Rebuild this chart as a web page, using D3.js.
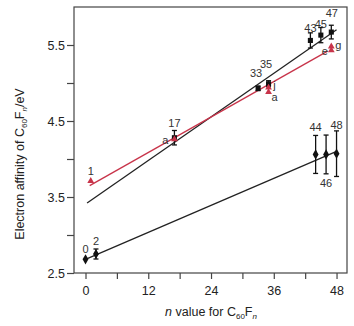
<!DOCTYPE html>
<html><head><meta charset="utf-8">
<script src="https://cdn.jsdelivr.net/npm/d3@7"></script>
<style>body{margin:0;background:#fff}svg{display:block}text{font-family:"Liberation Sans",Arial,sans-serif}</style>
</head><body>
<svg id="c" width="354" height="326"></svg>
<script>
// Upper black series (squares)
const upperN   = [17, 33, 35, 43, 45, 47];
const upperV   = [4.28, 4.93, 4.99, 5.56, 5.63, 5.67];
const upperErr = [0.095, 0.03, 0.04, 0.1, 0.1, 0.09];
const upperLbl = ["17", "33", "35", "43", "45", "47"];
// Red series (triangles)
const redN   = [1, 17, 35, 35, 47, 47];
const redV   = [3.71, 4.26, 4.94, 4.88, 5.48, 5.43];
const redLbl = ["1", "a", "j", "a", "g", "e"];
// Lower black series (diamonds)
const lowerN   = [0, 2, 44, 46, 48];
const lowerV   = [2.68, 2.75, 4.06, 4.06, 4.07];
const lowerErr = [0, 0.066, 0.25, 0.255, 0.3];
const lowerLbl = ["0", "2", "44", "46", "48"];
// Fitted lines: [n0, v0, n1, v1]
const fitUpper = [0.3, 3.42, 48, 5.70];
const fitRed   = [0.8, 3.65, 46.3, 5.42];
const fitLower = [0, 2.68, 48, 4.10];
// Ticks
const xTicks = [0, 12, 24, 36, 48];
const xMinor = [6, 18, 30, 42];
const yTicks = [2.5, 3.5, 4.5, 5.5];
const yMinor = [3.0, 4.0, 5.0];

const svg = d3.select("#c");
const L = 74, R = 347, T = 7, B = 273;
const x = d3.scaleLinear().domain([-2.2, 50]).range([L, R]);
const y = d3.scaleLinear().domain([2.5, 6.0]).range([B, T]);
const ax = "#444";

// frame
svg.append("rect").attr("x", L).attr("y", T).attr("width", R - L).attr("height", B - T)
  .attr("fill", "none").attr("stroke", ax).attr("stroke-width", 1.2);

// axes
const xAx = svg.append("g").attr("transform", `translate(0,${B})`)
  .call(d3.axisBottom(x).tickValues(xTicks).tickSize(6).tickFormat(d3.format("d")));
const xAxm = svg.append("g").attr("transform", `translate(0,${B})`)
  .call(d3.axisBottom(x).tickValues(xMinor).tickSize(6).tickFormat(""));
const yAx = svg.append("g").attr("transform", `translate(${L},0)`)
  .call(d3.axisLeft(y).tickValues(yTicks).tickSize(7).tickFormat(d3.format(".1f")));
const yAxm = svg.append("g").attr("transform", `translate(${L},0)`)
  .call(d3.axisLeft(y).tickValues(yMinor).tickSize(7).tickFormat(""));
[xAx, xAxm, yAx, yAxm].forEach(g => {
  g.select(".domain").remove();
  g.selectAll("line").attr("stroke", ax).attr("stroke-width", 1.2);
  g.selectAll("text").attr("fill", "#222").style("font-size", "12.5px")
    .style("font-family", '"Liberation Sans",Arial,sans-serif');
});
xAx.selectAll("text").attr("dy", "1.05em");
yAx.selectAll("text").attr("x", -9);

// fit lines
function fit(f, color) {
  svg.append("line").attr("x1", x(f[0])).attr("y1", y(f[1])).attr("x2", x(f[2])).attr("y2", y(f[3]))
    .attr("stroke", color).attr("stroke-width", 1.3);
}
fit(fitLower, "#222");
fit(fitUpper, "#222");
fit(fitRed, "#c8344a");

// error bars
function errs(ns, vs, es) {
  ns.forEach((n, i) => {
    if (!es[i]) return;
    const cx = x(n), y1 = y(vs[i] + es[i]), y2 = y(vs[i] - es[i]);
    const g = svg.append("g").attr("stroke", "#111").attr("stroke-width", 1.3);
    g.append("line").attr("x1", cx).attr("x2", cx).attr("y1", y1).attr("y2", y2);
    g.append("line").attr("x1", cx - 2.5).attr("x2", cx + 2.5).attr("y1", y1).attr("y2", y1);
    g.append("line").attr("x1", cx - 2.5).attr("x2", cx + 2.5).attr("y1", y2).attr("y2", y2);
  });
}
errs(upperN, upperV, upperErr);
errs(lowerN, lowerV, lowerErr);

// markers
const sq = d3.symbol().type(d3.symbolSquare).size(26);
const dm = d3.symbol().type(d3.symbolDiamond).size(30);
const tr = d3.symbol().type(d3.symbolTriangle).size(20);
upperN.forEach((n, i) => svg.append("path").attr("d", sq)
  .attr("transform", `translate(${x(n)},${y(upperV[i])})`).attr("fill", "#111"));
lowerN.forEach((n, i) => svg.append("path").attr("d", dm)
  .attr("transform", `translate(${x(n)},${y(lowerV[i])})`).attr("fill", "#111"));
redN.forEach((n, i) => svg.append("path").attr("d", tr)
  .attr("transform", `translate(${x(n)},${y(redV[i])})`).attr("fill", "#c8344a"));

// labels
const lblStyle = s => s.style("font-size", "11px").attr("fill", "#333").attr("text-anchor", "middle");
const upOff = [[0, -11], [-2, -11], [-2.5, -15.5], [0, -8.5], [0, -7.5], [0.5, -15]];
upperN.forEach((n, i) => svg.append("text").call(lblStyle)
  .attr("x", x(n) + upOff[i][0]).attr("y", y(upperV[i]) + upOff[i][1]).text(upperLbl[i]));
const redOff = [[0, -6], [-9, 5], [6, 1.5], [6, 8.5], [7, 2.5], [-6.5, 4.5]];
redN.forEach((n, i) => svg.append("text").call(lblStyle)
  .attr("x", x(n) + redOff[i][0]).attr("y", y(redV[i]) + redOff[i][1]).text(redLbl[i]));
const lowOff = [[0, -6], [0, -9], [0, -23], [0, 33], [0, -25]];
lowerN.forEach((n, i) => svg.append("text").call(lblStyle)
  .attr("x", x(n) + lowOff[i][0]).attr("y", y(lowerV[i]) + lowOff[i][1]).text(lowerLbl[i]));

// axis titles
const xt = svg.append("text").attr("x", 211).attr("y", 316).attr("text-anchor", "middle")
  .style("font-size", "12.5px").attr("fill", "#222");
xt.append("tspan").style("font-style", "italic").text("n");
xt.append("tspan").text(" value for C");
xt.append("tspan").style("font-size", "8px").attr("dy", 3).text("60");
xt.append("tspan").attr("dy", -3).text("F");
xt.append("tspan").style("font-size", "8px").style("font-style", "italic").attr("dy", 3).text("n");

const yt = svg.append("text").attr("transform", "translate(24,164) rotate(-90)").attr("text-anchor", "middle")
  .style("font-size", "12.5px").attr("fill", "#222");
yt.append("tspan").text("Electron affinity of C");
yt.append("tspan").style("font-size", "8px").attr("dy", 3).text("60");
yt.append("tspan").attr("dy", -3).text("F");
yt.append("tspan").style("font-size", "8px").style("font-style", "italic").attr("dy", 3).text("n");
yt.append("tspan").attr("dy", -3).text("/eV");
</script>
</body></html>
